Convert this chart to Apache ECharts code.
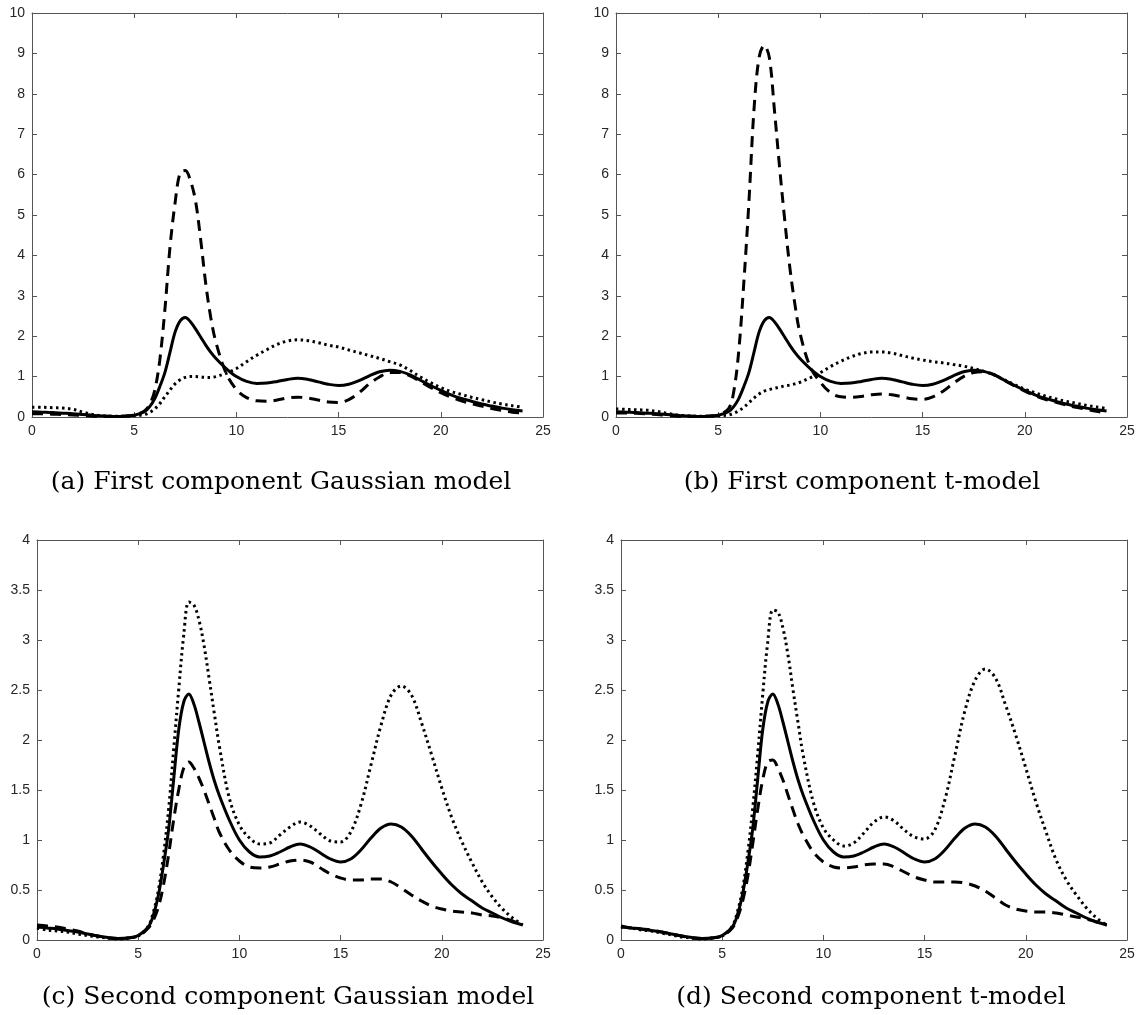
<!DOCTYPE html>
<html>
<head>
<meta charset="utf-8">
<script src="https://cdn.jsdelivr.net/npm/echarts@6/dist/echarts.min.js"></script>
<style>
  html, body { margin: 0; padding: 0; background: #fff; }
  #chart { width: 1141px; height: 1015px; }
</style>
</head>
<body>
<div id="chart"></div>
<script>
// shared x grid (finer around the main peak)
const xs = [0, 0.5, 1, 1.5, 2, 2.5, 3, 3.5, 4, 4.5, 5,
  5.5, 5.75, 6, 6.25, 6.5, 6.75, 7, 7.25, 7.5, 7.75, 8, 8.25, 8.5, 8.75, 9,
  9.5, 10, 10.5, 11, 11.5, 12, 12.5, 13, 13.5, 14, 14.5, 15, 15.5, 16, 16.5, 17, 17.5,
  18, 18.5, 19, 19.5, 20, 20.5, 21, 21.5, 22, 22.5, 23, 23.5, 24];

// solid line is the same in every panel
const solidAll = [0.13, 0.12, 0.11, 0.095, 0.08, 0.06, 0.04, 0.025, 0.015, 0.02, 0.045,
  0.13, 0.25, 0.45, 0.75, 1.1, 1.6, 2.1, 2.38, 2.46, 2.36, 2.18, 1.98, 1.78, 1.6, 1.45,
  1.2, 1.0, 0.88, 0.83, 0.84, 0.88, 0.93, 0.96, 0.93, 0.87, 0.81, 0.78, 0.81, 0.9, 1.02, 1.12, 1.16,
  1.13, 1.04, 0.91, 0.78, 0.66, 0.55, 0.46, 0.39, 0.32, 0.27, 0.22, 0.18, 0.15];

// (a) first component, Gaussian model
const dashedA = [0.08, 0.08, 0.07, 0.06, 0.05, 0.035, 0.02, 0.01, 0.01, 0.02, 0.05,
  0.15, 0.3, 0.65, 1.4, 2.65, 4.2, 5.3, 6.05, 6.1, 5.85, 5.35, 4.4, 3.3, 2.45, 1.85,
  1.08, 0.68, 0.48, 0.4, 0.39, 0.42, 0.47, 0.49, 0.47, 0.42, 0.37, 0.36, 0.43, 0.6, 0.82, 0.99, 1.1,
  1.1, 1.02, 0.88, 0.73, 0.6, 0.49, 0.4, 0.33, 0.27, 0.21, 0.16, 0.12, 0.1];
const dottedA = [0.24, 0.24, 0.23, 0.22, 0.19, 0.12, 0.06, 0.03, 0.02, 0.02, 0.03,
  0.06, 0.11, 0.2, 0.33, 0.5, 0.67, 0.82, 0.92, 0.98, 1.0, 1.0, 0.99, 0.98, 0.98, 1.0,
  1.08, 1.2, 1.37, 1.53, 1.67, 1.8, 1.88, 1.91, 1.89, 1.84, 1.78, 1.73, 1.66, 1.59, 1.52, 1.45, 1.37,
  1.29, 1.15, 0.99, 0.85, 0.73, 0.63, 0.56, 0.49, 0.43, 0.37, 0.32, 0.28, 0.24];

// (b) first component, t-model
const dashedB = [0.1, 0.1, 0.09, 0.08, 0.06, 0.04, 0.02, 0.01, 0.01, 0.02, 0.05,
  0.2, 0.6, 1.6, 3.3, 5.3, 7.6, 8.9, 9.2, 8.9, 7.6, 6.2, 4.9, 3.72, 2.8, 2.08,
  1.24, 0.86, 0.6, 0.5, 0.49, 0.51, 0.55, 0.57, 0.55, 0.5, 0.45, 0.44, 0.5, 0.64, 0.83, 1.0, 1.1,
  1.12, 1.05, 0.91, 0.77, 0.64, 0.53, 0.44, 0.37, 0.3, 0.24, 0.19, 0.14, 0.1];
const dottedB = [0.2, 0.19, 0.18, 0.17, 0.14, 0.09, 0.05, 0.03, 0.02, 0.02, 0.03,
  0.05, 0.09, 0.15, 0.24, 0.35, 0.47, 0.57, 0.64, 0.68, 0.71, 0.74, 0.77, 0.79, 0.82, 0.86,
  0.97, 1.1, 1.25, 1.38, 1.49, 1.57, 1.61, 1.61, 1.58, 1.52, 1.46, 1.41, 1.37, 1.34, 1.3, 1.26, 1.2,
  1.13, 1.04, 0.92, 0.8, 0.69, 0.6, 0.52, 0.45, 0.39, 0.34, 0.29, 0.25, 0.21];

// (c) second component, Gaussian model
const dashedC = [0.15, 0.14, 0.13, 0.11, 0.09, 0.06, 0.04, 0.02, 0.015, 0.02, 0.04,
  0.12, 0.2, 0.33, 0.55, 0.85, 1.2, 1.5, 1.72, 1.78, 1.72, 1.62, 1.5, 1.36, 1.22, 1.08,
  0.9, 0.79, 0.73, 0.72, 0.73, 0.76, 0.79, 0.8, 0.78, 0.72, 0.66, 0.62, 0.6, 0.6, 0.61, 0.61, 0.58,
  0.52, 0.45, 0.39, 0.34, 0.31, 0.29, 0.28, 0.27, 0.25, 0.24, 0.22, 0.19, 0.15];
const dottedC = [0.12, 0.1, 0.09, 0.08, 0.06, 0.045, 0.03, 0.02, 0.01, 0.02, 0.04,
  0.14, 0.28, 0.5, 0.85, 1.3, 1.9, 2.5, 3.05, 3.38, 3.35, 3.2, 2.95, 2.62, 2.28, 1.95,
  1.42, 1.15, 1.02, 0.96, 0.97, 1.05, 1.13, 1.18, 1.14, 1.06, 0.99, 0.98, 1.08, 1.35, 1.75, 2.15, 2.45,
  2.54, 2.45, 2.17, 1.85, 1.52, 1.22, 0.98, 0.77, 0.58, 0.43, 0.31, 0.22, 0.15];

// (d) second component, t-model
const dashedD = [0.14, 0.12, 0.11, 0.1, 0.08, 0.06, 0.04, 0.02, 0.015, 0.02, 0.04,
  0.12, 0.22, 0.38, 0.62, 0.95, 1.3, 1.6, 1.78, 1.8, 1.72, 1.6, 1.45, 1.3, 1.16, 1.05,
  0.88, 0.78, 0.73, 0.72, 0.73, 0.75, 0.76, 0.76, 0.73, 0.68, 0.63, 0.6, 0.58, 0.58, 0.58, 0.57, 0.54,
  0.49, 0.42, 0.35, 0.31, 0.29, 0.28, 0.28, 0.27, 0.25, 0.23, 0.21, 0.18, 0.15];
const dottedD = [0.13, 0.12, 0.1, 0.09, 0.07, 0.05, 0.03, 0.02, 0.01, 0.02, 0.04,
  0.14, 0.28, 0.5, 0.85, 1.3, 1.85, 2.45, 2.98, 3.3, 3.28, 3.12, 2.85, 2.5, 2.17, 1.85,
  1.38, 1.12, 1.0, 0.94, 0.97, 1.07, 1.18, 1.23, 1.19, 1.1, 1.03, 1.01, 1.1, 1.4, 1.85, 2.3, 2.6,
  2.71, 2.62, 2.35, 2.05, 1.72, 1.38, 1.08, 0.8, 0.6, 0.45, 0.32, 0.22, 0.15];

const captions = ['(a) First component Gaussian model', '(b) First component t-model',
  '(c) Second component Gaussian model', '(d) Second component t-model'];
const yMax = [10, 10, 4, 4];
const yStep = [1, 1, 0.5, 0.5];
const dashedSets = [dashedA, dashedB, dashedC, dashedD];
const dottedSets = [dottedA, dottedB, dottedC, dottedD];

// panel boxes in pixels
const boxes = [
  { left: 32, top: 13, width: 511, height: 404 },
  { left: 616, top: 13, width: 511, height: 404 },
  { left: 37, top: 540, width: 506, height: 400 },
  { left: 621, top: 540, width: 506, height: 400 }
];
const capPos = [[281, 482], [862, 482], [288, 997], [871, 997]];

const axisColor = '#555';
const labelStyle = { color: '#262626', fontSize: 14, fontFamily: 'Liberation Sans, Arial, sans-serif' };
const pts = ys => xs.map((x, i) => [x, ys[i]]);

const grid = [], xAxis = [], yAxis = [], series = [], graphic = [];
boxes.forEach((b, i) => {
  grid.push(b);
  const base = {
    gridIndex: i, type: 'value',
    axisLine: { show: true, onZero: false, lineStyle: { color: axisColor, width: 1 } },
    axisTick: { show: true, inside: true, length: 5, lineStyle: { color: axisColor } },
    splitLine: { show: false }
  };
  xAxis.push(Object.assign({}, base, { position: 'bottom', min: 0, max: 25, interval: 5,
    axisLabel: Object.assign({ margin: 7 }, labelStyle) }));
  xAxis.push(Object.assign({}, base, { position: 'top', min: 0, max: 25, interval: 5,
    axisLabel: { show: false } }));
  yAxis.push(Object.assign({}, base, { position: 'left', min: 0, max: yMax[i], interval: yStep[i],
    axisLabel: Object.assign({ margin: 7 }, labelStyle) }));
  yAxis.push(Object.assign({}, base, { position: 'right', min: 0, max: yMax[i], interval: yStep[i],
    axisLabel: { show: false } }));

  const common = { type: 'line', xAxisIndex: 2 * i, yAxisIndex: 2 * i, showSymbol: false,
    smooth: 0.35, animation: false, silent: true };
  series.push(Object.assign({}, common, { data: pts(dottedSets[i]),
    lineStyle: { color: '#000', width: 3, type: [2.5, 3.5], cap: 'butt' } }));
  series.push(Object.assign({}, common, { data: pts(dashedSets[i]),
    lineStyle: { color: '#000', width: 3, type: [11, 7], cap: 'butt' } }));
  series.push(Object.assign({}, common, { data: pts(solidAll),
    lineStyle: { color: '#000', width: 3, type: 'solid' } }));

  graphic.push({
    type: 'text', x: capPos[i][0], y: capPos[i][1],
    style: { text: captions[i], fill: '#000', font: '25px "DejaVu Serif", serif',
      align: 'center', verticalAlign: 'middle' }
  });
});

const chart = echarts.init(document.getElementById('chart'), null, { renderer: 'canvas' });
chart.setOption({ animation: false, grid, xAxis, yAxis, series, graphic });
</script>
</body>
</html>
